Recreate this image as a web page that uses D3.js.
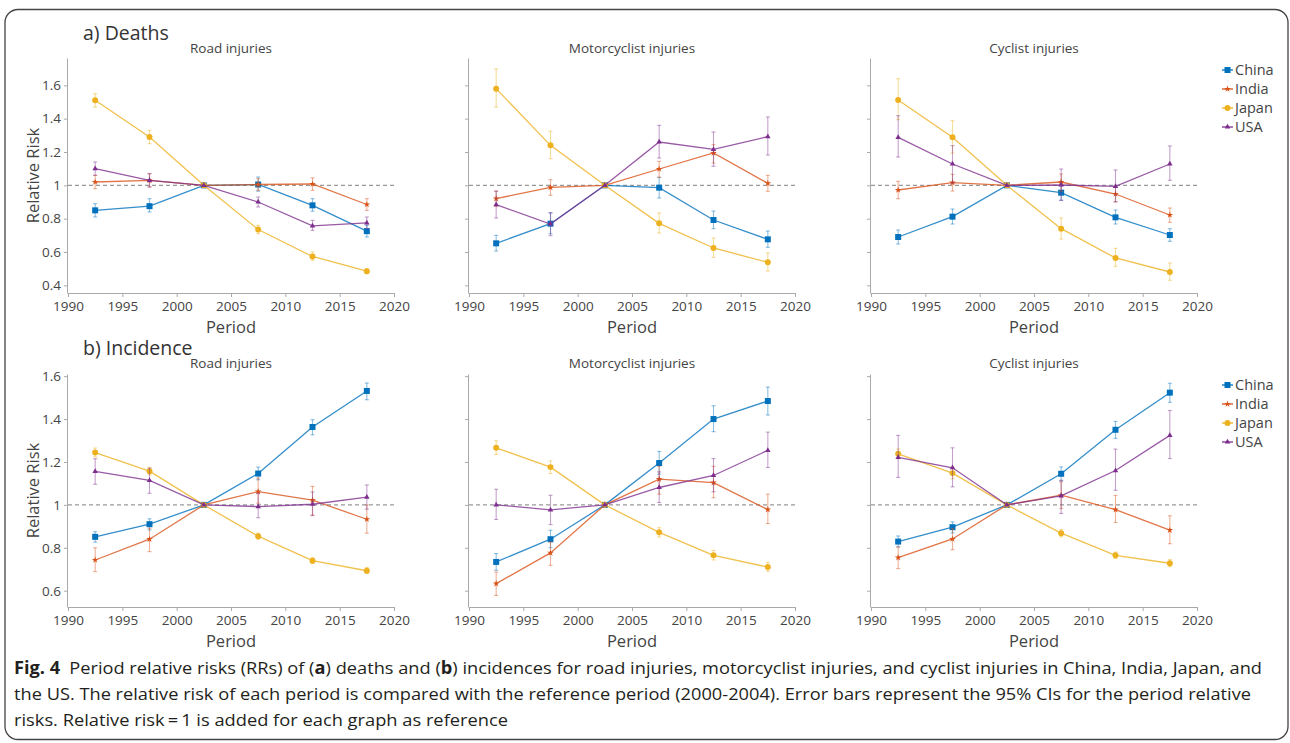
<!DOCTYPE html>
<html lang="en">
<head>
<meta charset="UTF-8">
<title>Period relative risks</title>
<script src="https://d3js.org/d3.v7.min.js"></script>
<style>
  body { margin: 0; background: #fff; }
  svg { display: block; font-family: "Open Sans", "Noto Sans", sans-serif; }
  .axis path, .axis line { stroke: #aaa; }
  .axis text { fill: #444; font-size: 13.5px; font-family: "Open Sans", sans-serif; }
</style>
</head>
<body>
<div id="chart"></div>
<script>
// periods (mid-points of 5-year periods) and countries
const periods = [1992.5, 1997.5, 2002.5, 2007.5, 2012.5, 2017.5];
const countries = ["China", "India", "Japan", "USA"];
const colors = ["#0072BD", "#D95319", "#EDB120", "#7E2F8E"];
const xTicks = [1990, 1995, 2000, 2005, 2010, 2015, 2020];
const yTicksDeaths = [0.4, 0.6, 0.8, 1, 1.2, 1.4, 1.6];
const yTicksIncidence = [0.6, 0.8, 1, 1.2, 1.4, 1.6];

// each array: rows = China, India, Japan, USA
// a) Deaths - Road injuries
const deathsRoadRR = [[0.85, 0.875, 1, 1.005, 0.88, 0.725], [1.02, 1.03, 1, 1.005, 1.008, 0.885], [1.51, 1.29, 1, 0.735, 0.573, 0.485], [1.10, 1.03, 1, 0.90, 0.757, 0.775]];
const deathsRoadLo = [[0.81, 0.84, 1, 0.965, 0.845, 0.69], [0.98, 0.99, 1, 0.97, 0.97, 0.85], [1.47, 1.25, 1, 0.71, 0.55, 0.47], [1.06, 0.99, 1, 0.87, 0.73, 0.74]];
const deathsRoadHi = [[0.89, 0.92, 1, 1.05, 0.92, 0.76], [1.06, 1.07, 1, 1.04, 1.045, 0.92], [1.55, 1.33, 1, 0.76, 0.60, 0.50], [1.14, 1.07, 1, 0.93, 0.79, 0.81]];
// a) Deaths - Motorcyclist injuries
const deathsMotoRR = [[0.652, 0.77, 1, 0.986, 0.792, 0.676], [0.92, 0.988, 1, 1.098, 1.194, 1.012], [1.58, 1.24, 1, 0.772, 0.624, 0.538], [0.884, 0.768, 1, 1.26, 1.216, 1.292]];
const deathsMotoLo = [[0.606, 0.71, 1, 0.924, 0.74, 0.628], [0.874, 0.94, 1, 1.048, 1.134, 0.964], [1.47, 1.16, 1, 0.714, 0.568, 0.486], [0.804, 0.698, 1, 1.164, 1.114, 1.182]];
const deathsMotoHi = [[0.70, 0.834, 1, 1.048, 0.846, 0.726], [0.964, 1.034, 1, 1.144, 1.244, 1.06], [1.698, 1.324, 1, 0.834, 0.684, 0.594], [0.966, 0.836, 1, 1.36, 1.32, 1.41]];
// a) Deaths - Cyclist injuries
const deathsCycRR = [[0.69, 0.812, 1, 0.956, 0.808, 0.702], [0.972, 1.016, 1, 1.02, 0.948, 0.822], [1.512, 1.288, 1, 0.74, 0.564, 0.48], [1.288, 1.128, 1, 1.002, 0.994, 1.128]];
const deathsCycLo = [[0.648, 0.768, 1, 0.91, 0.768, 0.664], [0.92, 0.966, 1, 0.964, 0.902, 0.778], [1.394, 1.194, 1, 0.678, 0.514, 0.43], [1.17, 1.014, 1, 0.91, 0.90, 1.03]];
const deathsCycHi = [[0.732, 0.858, 1, 0.998, 0.852, 0.74], [1.024, 1.066, 1, 1.068, 0.994, 0.864], [1.64, 1.388, 1, 0.804, 0.622, 0.534], [1.418, 1.238, 1, 1.098, 1.092, 1.236]];
// b) Incidence - Road injuries
const incRoadRR = [[0.851, 0.91, 1, 1.146, 1.363, 1.531], [0.743, 0.84, 1, 1.062, 1.022, 0.933], [1.244, 1.157, 1, 0.854, 0.74, 0.693], [1.156, 1.114, 1, 0.992, 1.003, 1.036]];
const incRoadLo = [[0.826, 0.883, 1, 1.117, 1.327, 1.49], [0.689, 0.782, 1, 1.008, 0.953, 0.868], [1.224, 1.14, 1, 0.84, 0.727, 0.68], [1.096, 1.054, 1, 0.94, 0.95, 0.98]];
const incRoadHi = [[0.875, 0.935, 1, 1.176, 1.397, 1.568], [0.80, 0.891, 1, 1.125, 1.086, 1.0], [1.265, 1.176, 1, 0.868, 0.754, 0.708], [1.215, 1.171, 1, 1.054, 1.06, 1.093]];
// b) Incidence - Motorcyclist injuries
const incMotoRR = [[0.734, 0.84, 1, 1.195, 1.40, 1.484], [0.633, 0.776, 1, 1.12, 1.104, 0.978], [1.266, 1.176, 1, 0.872, 0.765, 0.71], [1.0, 0.977, 1, 1.081, 1.137, 1.254]];
const incMotoLo = [[0.695, 0.80, 1, 1.143, 1.341, 1.419], [0.578, 0.718, 1, 1.05, 1.033, 0.913], [1.235, 1.146, 1, 0.85, 0.743, 0.69], [0.932, 0.908, 1, 1.011, 1.061, 1.174]];
const incMotoHi = [[0.773, 0.882, 1, 1.249, 1.462, 1.549], [0.687, 0.827, 1, 1.18, 1.18, 1.05], [1.299, 1.205, 1, 0.894, 0.788, 0.732], [1.073, 1.045, 1, 1.154, 1.216, 1.339]];
// b) Incidence - Cyclist injuries
const incCycRR = [[0.829, 0.896, 1, 1.145, 1.35, 1.523], [0.754, 0.841, 1, 1.045, 0.978, 0.882], [1.238, 1.148, 1, 0.868, 0.765, 0.728], [1.221, 1.173, 1, 1.042, 1.16, 1.324]];
const incCycLo = [[0.804, 0.869, 1, 1.112, 1.31, 1.478], [0.703, 0.791, 1, 0.983, 0.918, 0.819], [1.215, 1.122, 1, 0.851, 0.75, 0.712], [1.128, 1.084, 1, 0.96, 1.068, 1.216]];
const incCycHi = [[0.855, 0.921, 1, 1.177, 1.389, 1.567], [0.804, 0.889, 1, 1.107, 1.044, 0.949], [1.261, 1.174, 1, 0.885, 0.78, 0.745], [1.324, 1.266, 1, 1.115, 1.26, 1.44]];

const subtitles = ["Road injuries", "Motorcyclist injuries", "Cyclist injuries"];

const width = 1290, height = 743;
const svg = d3.select("#chart").append("svg")
    .attr("width", width)
    .attr("height", height);

// outer frame
svg.append("rect")
    .attr("x", 5).attr("y", 9.5)
    .attr("width", 1283).attr("height", 730)
    .attr("rx", 13)
    .attr("fill", "none")
    .attr("stroke", "#444")
    .attr("stroke-width", 1.3);

const cols = [[68, 394], [469, 795], [871, 1197]];
const rows = [
    { title: "a) Deaths", titleY: 40, subY: 53, y: [293, 58], dom: [0.354, 1.764], ticks: yTicksDeaths, legendY: 70,
      sets: [[deathsRoadRR, deathsRoadLo, deathsRoadHi], [deathsMotoRR, deathsMotoLo, deathsMotoHi], [deathsCycRR, deathsCycLo, deathsCycHi]] },
    { title: "b) Incidence", titleY: 355, subY: 368, y: [607, 374], dom: [0.524, 1.61], ticks: yTicksIncidence, legendY: 385,
      sets: [[incRoadRR, incRoadLo, incRoadHi], [incMotoRR, incMotoLo, incMotoHi], [incCycRR, incCycLo, incCycHi]] }
];

const symbols = [d3.symbolSquare, d3.symbolStar, d3.symbolCircle, d3.symbolTriangle];
const symSizes = [36, 14, 28, 13];
const fmt = d => String(+d.toFixed(1));

rows.forEach(row => {
    svg.append("text")
        .attr("x", 83).attr("y", row.titleY)
        .attr("font-size", 19.5)
        .attr("fill", "#333")
        .text(row.title);

    svg.append("text")
        .attr("transform", `translate(39, ${(row.y[0] + row.y[1]) / 2}) rotate(-90)`)
        .attr("text-anchor", "middle")
        .attr("font-size", 16.5)
        .attr("fill", "#444")
        .text("Relative Risk");

    cols.forEach((c, ci) => {
        const x = d3.scaleLinear().domain([1990, 2020]).range(c);
        const y = d3.scaleLinear().domain(row.dom).range(row.y);
        const g = svg.append("g");

        g.append("text")
            .attr("x", (c[0] + c[1]) / 2).attr("y", row.subY)
            .attr("text-anchor", "middle")
            .attr("font-size", 13.5)
            .attr("fill", "#444")
            .text(subtitles[ci]);

        // axes
        const xAxis = g.append("g").attr("class", "axis")
            .attr("transform", `translate(0, ${row.y[0]})`)
            .call(d3.axisBottom(x).tickValues(xTicks).tickFormat(d3.format("d")).tickSize(4).tickSizeOuter(0).tickPadding(4));
        xAxis.selectAll("text").attr("y", 18).attr("dy", null);

        g.append("g").attr("class", "axis")
            .attr("transform", `translate(${c[0] - 1}, 0)`)
            .call(d3.axisLeft(y).tickValues(row.ticks).tickFormat(ci === 0 ? fmt : "").tickSize(3).tickSizeOuter(0).tickPadding(3));

        g.append("text")
            .attr("x", (c[0] + c[1]) / 2).attr("y", row.y[0] + 40)
            .attr("text-anchor", "middle")
            .attr("font-size", 16.5)
            .attr("fill", "#444")
            .text("Period");

        // reference line at RR = 1
        g.append("line")
            .attr("x1", c[0]).attr("x2", c[1])
            .attr("y1", y(1)).attr("y2", y(1))
            .attr("stroke", "#999")
            .attr("stroke-width", 1.2)
            .attr("stroke-dasharray", "4,3");

        const [rr, lo, hi] = row.sets[ci];
        const line = d3.line().x((d, i) => x(periods[i])).y(d => y(d));

        countries.forEach((name, k) => {
            const s = g.append("g");
            // error bars
            periods.forEach((p, i) => {
                if (lo[k][i] === hi[k][i]) return;
                const eb = s.append("g")
                    .attr("stroke", colors[k])
                    .attr("stroke-opacity", 0.45)
                    .attr("stroke-width", 1.1);
                eb.append("line").attr("x1", x(p)).attr("x2", x(p)).attr("y1", y(lo[k][i])).attr("y2", y(hi[k][i]));
                eb.append("line").attr("x1", x(p) - 2).attr("x2", x(p) + 2).attr("y1", y(lo[k][i])).attr("y2", y(lo[k][i]));
                eb.append("line").attr("x1", x(p) - 2).attr("x2", x(p) + 2).attr("y1", y(hi[k][i])).attr("y2", y(hi[k][i]));
            });
            s.append("path")
                .datum(rr[k])
                .attr("d", line)
                .attr("fill", "none")
                .attr("stroke", colors[k])
                .attr("stroke-opacity", 0.8)
                .attr("stroke-width", 1.3);
            s.selectAll("path.mk")
                .data(rr[k])
                .join("path")
                .attr("class", "mk")
                .attr("transform", (d, i) => `translate(${x(periods[i])}, ${y(d)})`)
                .attr("d", d3.symbol().type(symbols[k]).size(symSizes[k]))
                .attr("fill", colors[k]);
        });
    });

    // legend
    const lg = svg.append("g").attr("transform", `translate(1222, ${row.legendY})`);
    countries.forEach((name, k) => {
        const it = lg.append("g").attr("transform", `translate(0, ${k * 19})`);
        it.append("line").attr("x1", 0).attr("x2", 11).attr("stroke", colors[k]).attr("stroke-width", 1.3);
        it.append("path")
            .attr("transform", "translate(5.5, 0)")
            .attr("d", d3.symbol().type(symbols[k]).size(symSizes[k]))
            .attr("fill", colors[k]);
        it.append("text")
            .attr("x", 13).attr("y", 0).attr("dy", "0.35em")
            .attr("font-size", 14.5)
            .attr("fill", "#444")
            .text(name);
    });
});

// caption
const cap = svg.append("g").attr("font-size", 17).attr("fill", "#231f20");
const l1 = cap.append("text").attr("x", 14).attr("y", 674)
    .attr("textLength", 1248).attr("lengthAdjust", "spacingAndGlyphs");
l1.append("tspan").attr("font-weight", "bold").text("Fig. 4");
l1.append("tspan").text("\u2002Period relative risks (RRs) of (");
l1.append("tspan").attr("font-weight", "bold").text("a");
l1.append("tspan").text(") deaths and (");
l1.append("tspan").attr("font-weight", "bold").text("b");
l1.append("tspan").text(") incidences for road injuries, motorcyclist injuries, and cyclist injuries in China, India, Japan, and");
cap.append("text").attr("x", 14).attr("y", 700)
    .attr("textLength", 1237).attr("lengthAdjust", "spacingAndGlyphs")
    .text("the US. The relative risk of each period is compared with the reference period (2000-2004). Error bars represent the 95% CIs for the period relative");
cap.append("text").attr("x", 14).attr("y", 726)
    .attr("textLength", 494).attr("lengthAdjust", "spacingAndGlyphs")
    .text("risks. Relative risk\u2009=\u20091 is added for each graph as reference");
</script>
</body>
</html>
